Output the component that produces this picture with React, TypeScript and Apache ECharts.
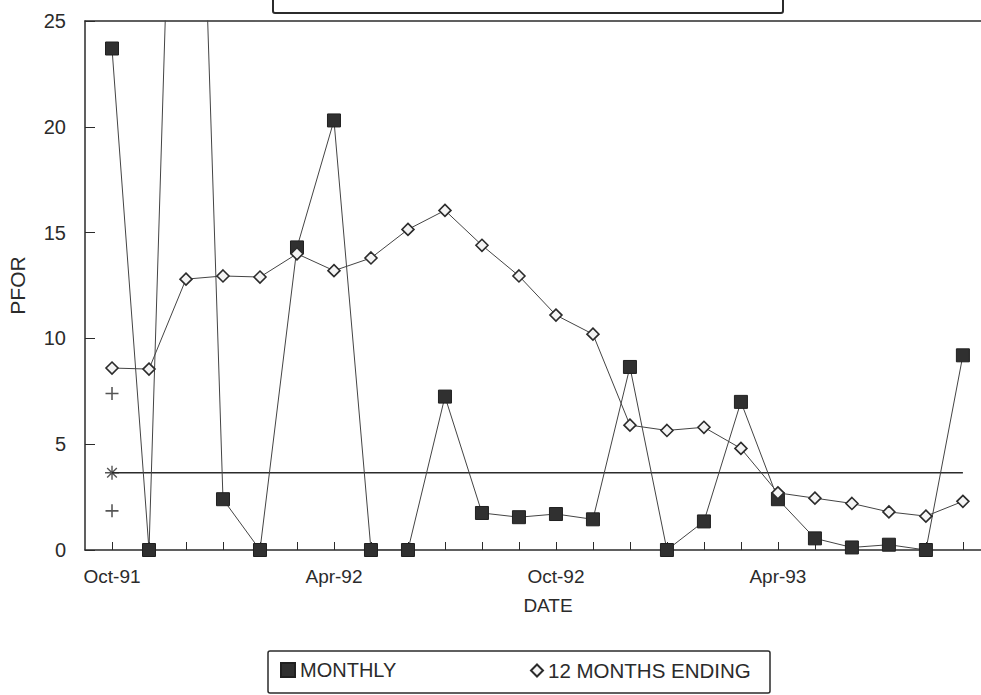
import React, { useEffect, useRef } from "react";
import * as echarts from "echarts";

const months = [
  "Oct-91", "Nov-91", "Dec-91", "Jan-92", "Feb-92", "Mar-92", "Apr-92", "May-92",
  "Jun-92", "Jul-92", "Aug-92", "Sep-92", "Oct-92", "Nov-92", "Dec-92", "Jan-93",
  "Feb-93", "Mar-93", "Apr-93", "May-93", "Jun-93", "Jul-93", "Aug-93", "Sep-93",
];
const labelledMonths = ["Oct-91", "Apr-92", "Oct-92", "Apr-93"];
const monthly = [
  23.7, 0, 57, 2.4, 0, 14.3, 20.3, 0, 0, 7.25, 1.75, 1.55,
  1.7, 1.45, 8.65, 0, 1.35, 7.0, 2.4, 0.55, 0.12, 0.25, 0, 9.2,
];
const twelveMonthsEnding = [
  8.6, 8.55, 12.8, 12.95, 12.9, 14.0, 13.2, 13.8, 15.15, 16.05, 14.4, 12.95,
  11.1, 10.2, 5.9, 5.65, 5.8, 4.8, 2.7, 2.45, 2.2, 1.8, 1.6, 2.3,
];
const meanValue = 3.65;
const upperLimit = 7.4;
const lowerLimit = 1.85;
const yTicks = [0, 5, 10, 15, 20, 25];

const FONT = "'Liberation Sans', Arial, sans-serif";
const INK = "#2b2b2b";

export default function App() {
  const ref = useRef<HTMLDivElement>(null);
  useEffect(() => {
    if (!ref.current) return;
    const chart = echarts.init(ref.current, null, { renderer: "svg" });
    const idx = months.map((_, i) => i);
    const plusPath = "path://M4.4,0H5.6V4.4H10V5.6H5.6V10H4.4V5.6H0V4.4H4.4Z";
    const starPath =
      "path://M4.5,0H5.5V4.5H10V5.5H5.5V10H4.5V5.5H0V4.5H4.5Z M1.2,1.9L1.9,1.2L8.8,8.1L8.1,8.8Z M8.1,1.2L8.8,1.9L1.9,8.8L1.2,8.1Z";
    chart.setOption({
      animation: false,
      backgroundColor: "#ffffff",
      textStyle: { fontFamily: FONT },
      grid: {
        left: 85,
        width: 926,
        top: 21,
        height: 529,
        containLabel: false,
        outerBoundsMode: "none",
      },
      xAxis: [
        {
          type: "value",
          min: -0.73,
          max: 24.3,
          name: "DATE",
          nameLocation: "middle",
          nameGap: 46,
          nameTextStyle: { fontSize: 19, color: INK, fontFamily: FONT },
          axisLine: { show: true, onZero: false, lineStyle: { color: INK, width: 1.5 } },
          axisTick: {
            show: true,
            inside: true,
            length: 8,
            customValues: idx,
            lineStyle: { color: INK, width: 1 },
          },
          axisLabel: {
            show: true,
            customValues: labelledMonths.map((m) => months.indexOf(m)),
            formatter: (v: number) => months[Math.round(v)] ?? "",
            fontSize: 19,
            color: INK,
            margin: 17,
            fontFamily: FONT,
          },
          splitLine: { show: false },
        },
        {
          type: "value",
          position: "top",
          min: -0.73,
          max: 24.3,
          axisLine: { show: true, onZero: false, lineStyle: { color: INK, width: 1.5 } },
          axisTick: { show: false },
          axisLabel: { show: false },
          splitLine: { show: false },
        },
      ],
      yAxis: {
        type: "value",
        min: 0,
        max: 25,
        interval: 5,
        name: "PFOR",
        nameLocation: "middle",
        nameGap: 57,
        nameTextStyle: { fontSize: 21, color: INK, fontFamily: FONT },
        axisLine: { show: true, onZero: false, lineStyle: { color: INK, width: 1.5 } },
        axisTick: { show: true, inside: true, length: 10, lineStyle: { color: INK, width: 1 } },
        axisLabel: {
          fontSize: 20,
          color: INK,
          margin: 19,
          fontFamily: FONT,
          formatter: (v: number) => (yTicks.includes(v) ? String(v) : ""),
        },
        splitLine: { show: false },
      },
      legend: [
        {
          data: [{ name: "MONTHLY", icon: "rect" }],
          left: 275,
          top: 655,
          itemWidth: 14,
          itemHeight: 14,
          textStyle: { fontSize: 20, color: INK, fontFamily: FONT },
        },
        {
          data: [{ name: "12 MONTHS ENDING", icon: "diamond" }],
          left: 525,
          top: 655,
          itemWidth: 12,
          itemHeight: 12,
          textStyle: { fontSize: 20.5, color: INK, fontFamily: FONT },
        },
      ],
      graphic: [
        {
          type: "rect",
          shape: { x: 273, y: -20, width: 510, height: 33, r: 2 },
          style: { fill: "none", stroke: INK, lineWidth: 2 },
        },
        {
          type: "rect",
          shape: { x: 268, y: 651, width: 502, height: 42, r: 2 },
          style: { fill: "none", stroke: INK, lineWidth: 1.5 },
        },
      ],
      series: [
        {
          name: "mean",
          type: "line",
          data: [
            [0, meanValue],
            [months.length - 1, meanValue],
          ],
          symbol: "none",
          lineStyle: { color: INK, width: 1.5 },
          silent: true,
          z: 1,
        },
        {
          name: "limits",
          type: "scatter",
          data: [
            [0, upperLimit],
            [0, lowerLimit],
          ],
          symbol: plusPath,
          symbolSize: 13,
          itemStyle: { color: INK },
          z: 3,
        },
        {
          name: "meanMark",
          type: "scatter",
          data: [[0, meanValue]],
          symbol: starPath,
          symbolSize: 14,
          itemStyle: { color: INK },
          z: 3,
        },
        {
          name: "MONTHLY",
          type: "line",
          data: monthly.map((v, i) => [i, v]),
          symbol: "rect",
          symbolSize: 13,
          showAllSymbol: true,
          clip: true,
          lineStyle: { color: "#444", width: 1 },
          itemStyle: { color: "#303030", borderColor: "#202020", borderWidth: 1 },
          z: 4,
        },
        {
          name: "12 MONTHS ENDING",
          type: "line",
          data: twelveMonthsEnding.map((v, i) => [i, v]),
          symbol: "diamond",
          symbolSize: 12,
          showAllSymbol: true,
          lineStyle: { color: "#444", width: 1 },
          itemStyle: { color: "#f4f4f4", borderColor: "#2b2b2b", borderWidth: 1.6 },
          z: 5,
        },
      ],
    });
    return () => chart.dispose();
  }, []);
  return (
    <div
      ref={ref}
      style={{ position: "fixed", left: 0, top: 0, width: 981, height: 695, background: "#fff" }}
    />
  );
}
